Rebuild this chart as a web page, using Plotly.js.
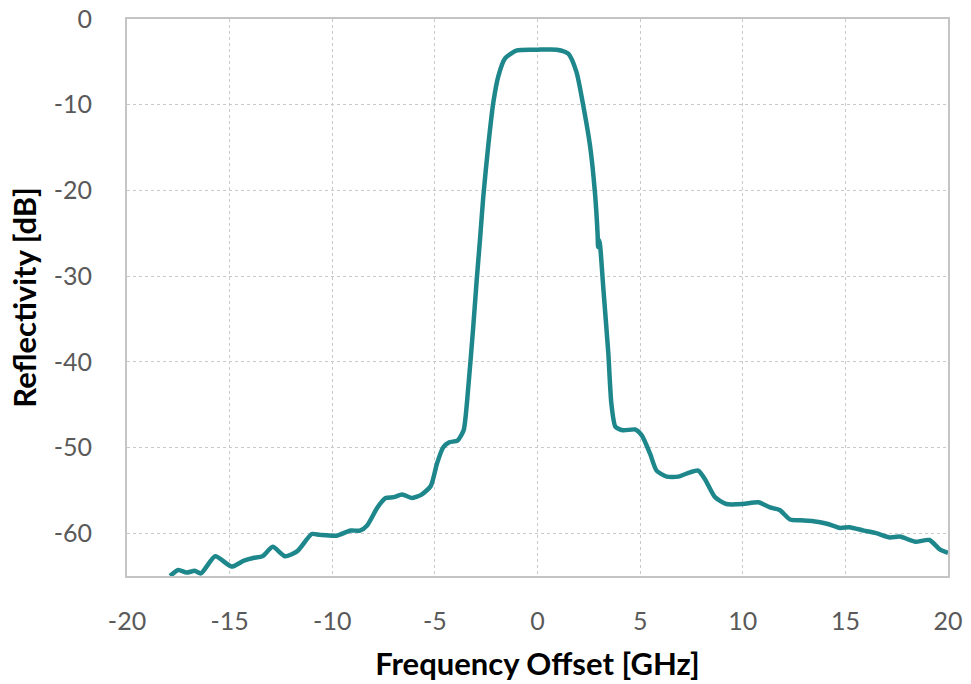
<!DOCTYPE html>
<html>
<head>
<meta charset="utf-8">
<script src="https://cdn.plot.ly/plotly-3.0.1.min.js"></script>
<style>html,body{margin:0;padding:0;background:#fff;}#chart{width:971px;height:684px;}</style>
</head>
<body>
<div id="chart"></div>
<script>
const freqGHz = [-17.9,-17.5,-17.1,-16.7,-16.4,-15.7,-14.9,-14.3,-13.85,-13.4,-12.9,-12.3,-11.7,-11.0,-10.6,-9.8,-9.1,-8.65,-8.3,-7.8,-7.4,-7.0,-6.6,-6.1,-5.65,-5.2,-4.9,-4.6,-4.3,-3.9,-3.6,-3.37,-3.13,-2.96,-2.8,-2.64,-2.4,-2.15,-1.9,-1.58,-1.0,0.0,0.94,1.5,1.9,2.23,2.56,2.8,2.93,2.95,3.0,3.05,3.2,3.45,3.6,3.8,4.18,4.75,5.08,5.48,5.8,6.3,6.86,7.43,7.83,8.16,8.65,9.2,10.0,10.76,11.33,11.8,12.3,12.8,13.44,14.1,14.74,15.2,15.9,16.5,17.17,17.66,18.4,19.1,19.6,20.0];
const reflectivityDb = [-65.0,-64.3,-64.6,-64.4,-64.7,-62.7,-63.9,-63.2,-62.9,-62.7,-61.6,-62.7,-62.1,-60.1,-60.2,-60.3,-59.7,-59.7,-59.1,-57.0,-55.9,-55.8,-55.5,-55.9,-55.5,-54.5,-51.9,-50.0,-49.4,-49.2,-48.0,-42.9,-35.9,-30.4,-25.7,-20.7,-14.8,-9.7,-6.6,-4.6,-3.66,-3.58,-3.58,-4.04,-6.2,-10.1,-14.8,-20.3,-25.2,-26.6,-25.8,-26.4,-31.2,-39.0,-44.9,-47.6,-48.0,-47.9,-48.6,-50.7,-52.7,-53.4,-53.4,-52.9,-52.7,-53.7,-55.8,-56.6,-56.6,-56.4,-57.0,-57.3,-58.4,-58.5,-58.6,-58.9,-59.4,-59.3,-59.7,-60.0,-60.5,-60.4,-61.0,-60.8,-61.9,-62.3];
const xTicks = [-20,-15,-10,-5,0,5,10,15,20];
const yTicks = [0,-10,-20,-30,-40,-50,-60];

const trace = {
  x: freqGHz, y: reflectivityDb, type: 'scatter', mode: 'lines',
  line: {color: '#1e878c', width: 4.5, shape: 'spline', smoothing: 0.6},
  hoverinfo: 'x+y'
};
const fontFam = 'Lato, "Open Sans", sans-serif';
const layout = {
  width: 971, height: 684,
  margin: {l: 127, r: 23, t: 19, b: 108},
  paper_bgcolor: '#ffffff', plot_bgcolor: '#ffffff',
  showlegend: false,
  font: {family: fontFam, color: '#595959', size: 20},
  xaxis: {
    range: [-20, 20], tickvals: xTicks, ticktext: xTicks.map(String),
    showgrid: true, gridcolor: '#c9c9c9', griddash: 'dot', gridwidth: 1,
    showline: true, mirror: true, linecolor: '#c4c4c4', linewidth: 2,
    zeroline: false, ticks: '', ticklabelstandoff: 22, automargin: false,
    tickfont: {family: fontFam, size: 25, color: '#595959'},
    title: {text: '<b>Frequency Offset [GHz]</b>', font: {family: fontFam, size: 31, color: '#000000'}, standoff: 19}
  },
  yaxis: {
    range: [-65, 0], tickvals: yTicks, ticktext: yTicks.map(String),
    showgrid: true, gridcolor: '#c9c9c9', griddash: 'dot', gridwidth: 1,
    showline: true, mirror: true, linecolor: '#c4c4c4', linewidth: 2,
    zeroline: false, ticks: '', ticklabelstandoff: 28, automargin: false,
    tickfont: {family: fontFam, size: 25, color: '#595959'},
    title: {text: '<b>Reflectivity [dB]</b>', font: {family: fontFam, size: 31, color: '#000000'}, standoff: 8}
  }
};
Plotly.newPlot('chart', [trace], layout, {displayModeBar: false, staticPlot: true});
</script>
</body>
</html>
